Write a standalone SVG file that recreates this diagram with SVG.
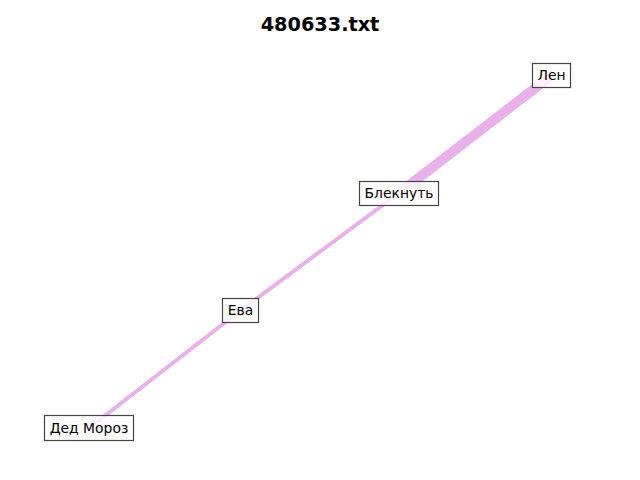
<svg xmlns="http://www.w3.org/2000/svg" width="640" height="480" viewBox="0 0 640 480">
<style>
.edge{stroke:#e9b1e9;stroke-linecap:butt;fill:none}
.box{fill:#ffffff;fill-opacity:0.8;stroke:#444444;stroke-width:1.2}
.lbl{font-family:"DejaVu Sans",sans-serif;font-size:13.9px;fill:#000;text-anchor:middle;dominant-baseline:central}
.title{font-family:"DejaVu Sans",sans-serif;font-size:19.3px;font-weight:bold;fill:#000;text-anchor:middle}
</style>
<rect width="640" height="480" fill="#ffffff"/>
<text class="title" x="320" y="31">480633.txt</text>
<g id="connectors">
<line class="edge" x1="551.5" y1="75.5" x2="398.5" y2="193.5" stroke-width="10"/>
<line class="edge" x1="398.5" y1="193.5" x2="240.5" y2="310.5" stroke-width="4"/>
<line class="edge" x1="240.5" y1="310.5" x2="89" y2="428" stroke-width="4"/>
</g>
<g id="node-len">
<rect class="box" x="532.5" y="63.5" width="38" height="24"/>
<text class="lbl" x="551.5" y="75">Лен</text>
</g>
<g id="node-bleknut">
<rect class="box" x="359.5" y="181.5" width="79" height="24"/>
<text class="lbl" x="399" y="193">Блекнуть</text>
</g>
<g id="node-eva">
<rect class="box" x="222.5" y="298.5" width="36" height="24"/>
<text class="lbl" x="240.5" y="310">Ева</text>
</g>
<g id="node-ded-moroz">
<rect class="box" x="44.5" y="415.5" width="89" height="25"/>
<text class="lbl" x="89" y="428">Дед Мороз</text>
</g>
</svg>
